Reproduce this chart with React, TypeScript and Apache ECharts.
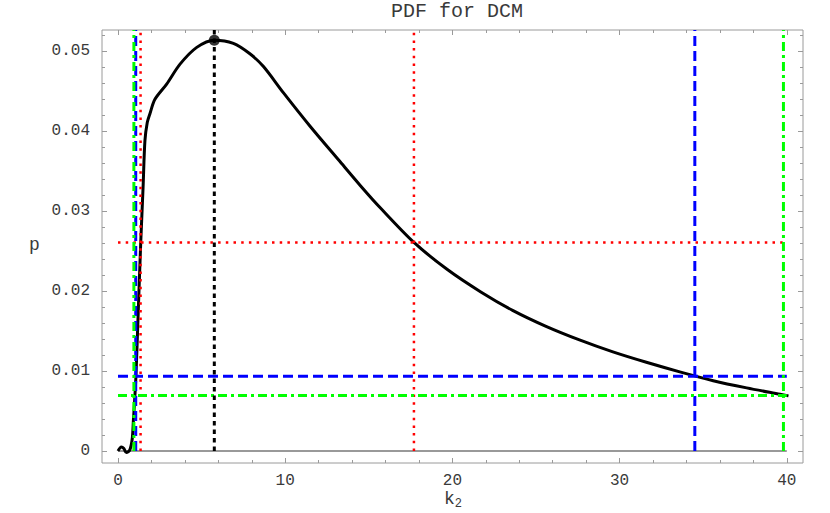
import React, { useEffect, useRef } from "react";
import * as echarts from "echarts";

// ---- data ----
const k2 = [0, 0.2, 0.35, 0.5, 0.7, 0.85, 0.92, 1.0, 1.08, 1.22, 1.36, 1.5, 1.61, 1.75, 1.91, 2.21, 2.91, 3.71, 4.71, 5.76, 6.9, 7.89, 8.7, 9.9, 11.5, 13.2, 14.5, 15.7, 17.7, 19.7, 21.7, 23.6, 25.6, 27.6, 29.6, 31.6, 33.6, 35.6, 37.6, 39.6, 40.1];
const pdf = [0, 0.0005, 0.0003, -0.0002, 0.0001, 0.0015, 0.0038, 0.0065, 0.0097, 0.018, 0.0261, 0.033, 0.0388, 0.0411, 0.0422, 0.044, 0.0459, 0.0484, 0.0505, 0.0514, 0.051, 0.0497, 0.0481, 0.0448, 0.0406, 0.0364, 0.0332, 0.0304, 0.0261, 0.0227, 0.0199, 0.0176, 0.0156, 0.0139, 0.0124, 0.0111, 0.0099, 0.0088, 0.0079, 0.0071, 0.0069];
const peak = [5.76, 0.0514];
const redLevel = 0.0261;
const redBounds = [1.35, 17.7];
const blueLevel = 0.00934;
const blueBounds = [1.06, 34.5];
const greenLevel = 0.00696;
const greenBounds = [0.95, 39.8];
const xRange = [0, 40];
const xMajor = [0, 10, 20, 30, 40];
const xMinor = [2, 4, 6, 8, 12, 14, 16, 18, 22, 24, 26, 28, 32, 34, 36, 38];
const yMajor = [0, 0.01, 0.02, 0.03, 0.04, 0.05];
const yMinor = [0.002, 0.004, 0.006, 0.008, 0.012, 0.014, 0.016, 0.018, 0.022, 0.024, 0.026, 0.028, 0.032, 0.034, 0.036, 0.038, 0.042, 0.044, 0.046, 0.048, 0.052];
const title = "PDF for DCM";

const X_MIN = -0.957;
const X_MAX = 40.97;
const Y_MIN = -0.0015;
const Y_MAX = 0.052675;

const FONT = "'Liberation Mono', 'Courier New', 'DejaVu Sans Mono', monospace";
const FRAME = "#9a9a9a";
const TEXT = "#3a3a3a";

export default function App() {
  const ref = useRef<HTMLDivElement>(null);
  useEffect(() => {
    const chart = echarts.init(ref.current!, undefined, { renderer: "svg" });

    const xBase = (pos: string, grid: number, major: boolean, labels: boolean) => ({
      type: "value",
      gridIndex: grid,
      position: pos,
      min: X_MIN,
      max: X_MAX,
      axisLine: { show: false, onZero: false },
      axisTick: {
        show: true,
        inside: true,
        length: major ? 5 : 3,
        customValues: major ? xMajor : xMinor,
        lineStyle: { color: FRAME, width: 1 },
      },
      axisLabel: labels
        ? { show: true, customValues: xMajor, margin: 10, fontFamily: FONT, fontSize: 16, color: TEXT }
        : { show: false },
      splitLine: { show: false },
    });
    const yBase = (pos: string, grid: number, major: boolean, labels: boolean) => ({
      type: "value",
      gridIndex: grid,
      position: pos,
      min: Y_MIN,
      max: Y_MAX,
      axisLine: { show: false, onZero: false },
      axisTick: {
        show: true,
        inside: true,
        length: major ? 5 : 3,
        customValues: major ? yMajor : yMinor,
        lineStyle: { color: FRAME, width: 1 },
      },
      axisLabel: labels
        ? { show: true, customValues: yMajor, margin: 12, fontFamily: FONT, fontSize: 16, color: TEXT }
        : { show: false },
      splitLine: { show: false },
    });

    const gridRect = { left: 102, top: 30, width: 701, height: 433, containLabel: false };

    const hLine = (level: number) => [[xRange[0], level], [xRange[1], level]];
    const vLine = (x: number) => [[x, 0], [x, Y_MAX]];

    const refSeries = (name: string, data: number[][], color: string, type: any, width: number) => ({
      name,
      type: "line",
      xAxisIndex: 0,
      yAxisIndex: 0,
      data,
      symbol: "none",
      lineStyle: { color, type, width },
      silent: true,
      z: 3,
    });

    const redDot = [2.5, 5.2];
    const blueDash = [10, 5];
    const greenDashDot = [9, 4, 3, 4];
    const blackDash = [4.5, 4];

    chart.setOption({
      animation: false,
      title: {
        text: title,
        left: 452,
        top: -4,
        textAlign: "center",
        textStyle: { fontFamily: FONT, fontSize: 20, fontWeight: "normal", color: TEXT },
      },
      grid: [
        { ...gridRect, show: true, borderColor: FRAME, borderWidth: 1, backgroundColor: "transparent" },
        gridRect,
      ],
      xAxis: [
        xBase("bottom", 0, true, true),
        xBase("top", 0, true, false),
        xBase("bottom", 1, false, false),
        xBase("top", 1, false, false),
      ],
      yAxis: [
        yBase("left", 0, true, true),
        yBase("right", 0, true, false),
        yBase("left", 1, false, false),
        yBase("right", 1, false, false),
      ],
      graphic: [
        {
          type: "text",
          left: 29,
          top: 236,
          style: { text: "p", fontFamily: FONT, fontSize: 18, fill: TEXT },
        },
        {
          type: "text",
          left: 444,
          top: 490,
          style: {
            text: "{k|k}{s|2}",
            rich: {
              k: { fontFamily: FONT, fontSize: 18, fill: TEXT, verticalAlign: "top" },
              s: { fontFamily: FONT, fontSize: 12, fill: TEXT, padding: [8, 0, 0, 0] },
            },
          },
        },
      ],
      series: [
        {
          name: "axis",
          type: "line",
          data: hLine(0),
          symbol: "none",
          lineStyle: { color: "#999999", width: 2 },
          silent: true,
          z: 1,
        },
        {
          name: "pdf",
          type: "line",
          data: k2.map((x, i) => [x, pdf[i]]),
          symbol: "none",
          smooth: 0.3,
          lineStyle: { color: "#000", width: 3 },
          silent: true,
          z: 2,
        },
        refSeries("red-h", hLine(redLevel), "#ff0000", redDot, 2.5),
        refSeries("red-v1", vLine(redBounds[0]), "#ff0000", redDot, 2.5),
        refSeries("red-v2", vLine(redBounds[1]), "#ff0000", redDot, 2.5),
        refSeries("blue-h", hLine(blueLevel), "#0000ff", blueDash, 3),
        refSeries("blue-v1", vLine(blueBounds[0]), "#0000ff", blueDash, 3),
        refSeries("blue-v2", vLine(blueBounds[1]), "#0000ff", blueDash, 3),
        refSeries("green-h", hLine(greenLevel), "#00ff00", greenDashDot, 3),
        refSeries("green-v1", vLine(greenBounds[0]), "#00ff00", greenDashDot, 3),
        refSeries("green-v2", vLine(greenBounds[1]), "#00ff00", greenDashDot, 3),
        refSeries("peak-v", vLine(peak[0]), "#000000", blackDash, 3),
        {
          name: "peak",
          type: "scatter",
          data: [peak],
          symbol: "circle",
          symbolSize: 11,
          itemStyle: { color: "#000" },
          silent: true,
          z: 5,
        },
      ],
    });
    return () => chart.dispose();
  }, []);
  return (
    <div
      ref={ref}
      style={{ position: "fixed", left: 0, top: 0, width: 830, height: 513, background: "#fff" }}
    />
  );
}
